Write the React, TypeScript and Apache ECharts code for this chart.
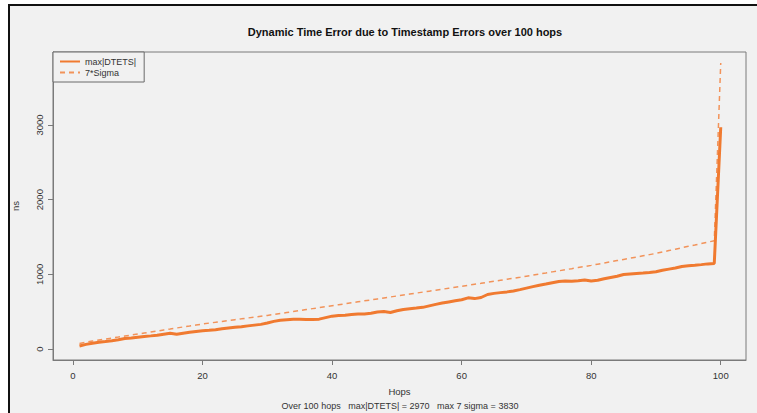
import React, { useEffect, useRef } from "react";
import * as echarts from "echarts";

const titleText = "Dynamic Time Error due to Timestamp Errors over 100 hops";
const subText = "Over 100 hops   max|DTETS| = 2970   max 7 sigma = 3830";
const xTicks = [0, 20, 40, 60, 80, 100];
const yTicks = [0, 1000, 2000, 3000];

const maxDtets = [
  40, 62, 78, 90, 100, 112, 125, 140, 148, 158,
  168, 176, 185, 198, 210, 198, 212, 225, 236, 245,
  250, 258, 270, 280, 290, 298, 310, 320, 330, 348,
  370, 385, 392, 398, 400, 396, 395, 400, 420, 440,
  448, 452, 462, 468, 470, 480, 495, 502, 490, 512,
  530, 540, 548, 558, 578, 598, 615, 630, 645, 660,
  685, 675, 690, 730, 745, 755, 765, 778, 795, 815,
  835, 855, 870, 888, 905, 912, 908, 915, 925, 912,
  920, 940, 958, 975, 998, 1005, 1012, 1018, 1026, 1035,
  1055, 1070, 1085, 1105, 1115, 1122, 1130, 1140, 1145, 2970,
];

const sevenSigma = [
  75, 92, 106, 120, 134, 147, 160, 174, 187, 200,
  214, 228, 241, 255, 268, 282, 295, 308, 322, 335,
  347, 358, 370, 381, 393, 404, 416, 427, 439, 450,
  463, 476, 489, 502, 515, 528, 541, 554, 567, 580,
  593, 606, 619, 632, 645, 658, 671, 684, 697, 710,
  723, 736, 749, 762, 775, 788, 801, 814, 827, 840,
  853, 867, 880, 894, 907, 921, 934, 948, 961, 975,
  989, 1004, 1018, 1033, 1047, 1062, 1076, 1091, 1105, 1120,
  1136, 1152, 1168, 1184, 1200, 1216, 1232, 1248, 1264, 1280,
  1299, 1318, 1337, 1356, 1375, 1393, 1412, 1431, 1450, 3830,
];

const hops = maxDtets.map((_, i) => i + 1);

const FONT = "'Liberation Sans', Arial, sans-serif";
const AXIS = "#7a7a7a";
const TXT = "#333333";

export default function App() {
  const ref = useRef<HTMLDivElement>(null);
  useEffect(() => {
    if (!ref.current) return;
    const chart = echarts.init(ref.current, undefined, { renderer: "svg" });
    chart.setOption({
      animation: false,
      backgroundColor: "#ffffff",
      graphic: [
        { type: "rect", z: -10, shape: { x: 9, y: 5, width: 760, height: 420 }, style: { fill: "#f1f1f1", stroke: "#111111", lineWidth: 2 } },
      ],
      title: [
        {
          text: titleText,
          left: 400,
          top: 21,
          textAlign: "center",
          textStyle: { fontFamily: FONT, fontSize: 11, fontWeight: "bold", color: "#111111" },
        },
        {
          text: subText,
          left: 400,
          top: 401,
          padding: 0,
          textAlign: "center",
          textStyle: { fontFamily: FONT, fontSize: 9, fontWeight: "normal", color: TXT, lineHeight: 10 },
        },
      ],
      legend: {
        left: 53,
        top: 52,
        orient: "vertical",
        backgroundColor: "#f1f1f1",
        borderColor: "#6a6a6a",
        borderWidth: 1,
        padding: [5, 8, 5, 6],
        itemWidth: 20,
        itemHeight: 9,
        itemGap: 2,
        itemStyle: { color: "transparent", borderColor: "transparent", borderWidth: 0, opacity: 0 },
        textStyle: { fontFamily: FONT, fontSize: 9, color: TXT },
        data: ["max|DTETS|", "7*Sigma"],
      },
      grid: {
        left: 53,
        right: 11,
        top: 52,
        bottom: 53,
        show: true,
        borderColor: AXIS,
        borderWidth: 1,
        backgroundColor: "transparent",
      },
      xAxis: {
        type: "value",
        min: -3.09,
        max: 103.9,
        name: "Hops",
        nameLocation: "middle",
        nameGap: 26,
        nameTextStyle: { fontFamily: FONT, fontSize: 9.5, color: TXT, lineHeight: 10 },
        axisLine: { show: true, onZero: false, lineStyle: { color: AXIS } },
        axisTick: { show: true, length: 5, lineStyle: { color: AXIS }, customValues: xTicks },
        axisLabel: { fontFamily: FONT, fontSize: 9.5, color: TXT, margin: 10, customValues: xTicks },
        splitLine: { show: false },
      },
      yAxis: {
        type: "value",
        min: -147,
        max: 3977,
        name: "ns",
        nameLocation: "middle",
        nameGap: 33,
        nameRotate: 90,
        nameTextStyle: { fontFamily: FONT, fontSize: 9.5, color: TXT },
        axisLine: { show: true, onZero: false, lineStyle: { color: AXIS } },
        axisTick: { show: true, length: 5, lineStyle: { color: AXIS }, customValues: yTicks },
        axisLabel: {
          fontFamily: FONT,
          fontSize: 9.5,
          color: TXT,
          margin: 9,
          rotate: 90,
          customValues: yTicks,
          formatter: (v: number) => String(v),
        },
        splitLine: { show: false },
      },
      series: [
        {
          name: "max|DTETS|",
          type: "line",
          symbol: "none",
          data: hops.map((h, i) => [h, maxDtets[i]]),
          lineStyle: { color: "#f07a30", width: 3 },
          itemStyle: { color: "#f07a30" },
          z: 3,
        },
        {
          name: "7*Sigma",
          type: "line",
          symbol: "none",
          data: hops.map((h, i) => [h, sevenSigma[i]]),
          lineStyle: { color: "#f2935a", width: 1.5, type: [5, 4] },
          itemStyle: { color: "#f2935a" },
          z: 2,
        },
      ],
    });
    return () => chart.dispose();
  }, []);
  return (
    <div
      ref={ref}
      style={{ position: "fixed", left: 0, top: 0, width: 757, height: 413 }}
    />
  );
}
